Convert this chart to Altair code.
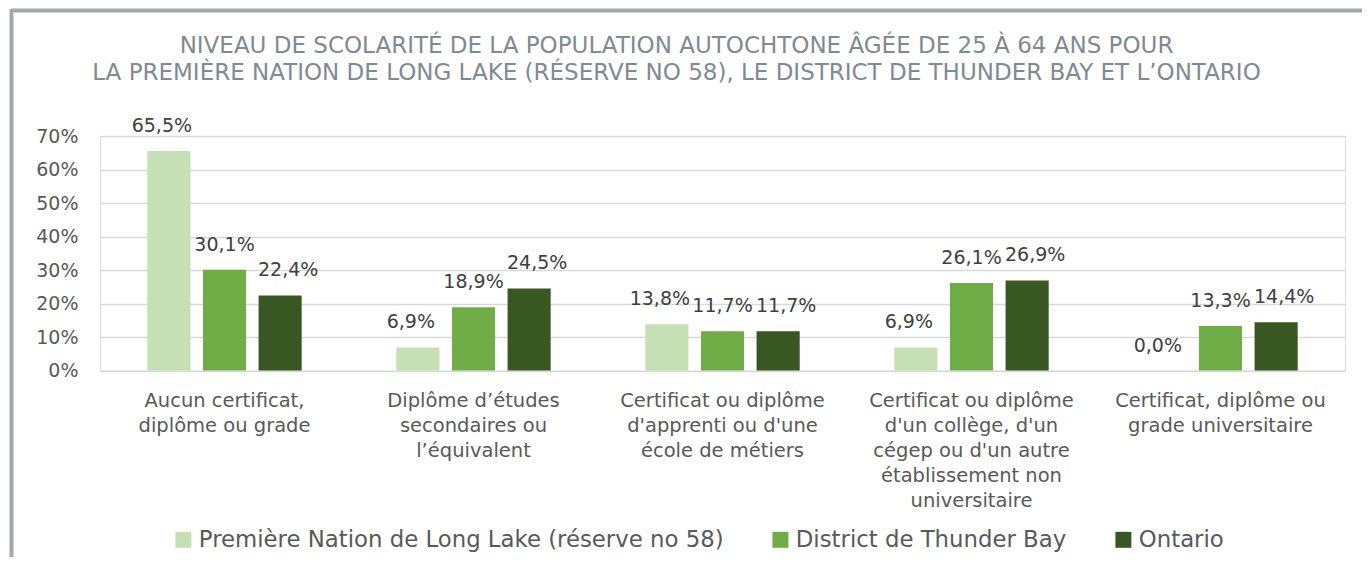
import altair as alt
import pandas as pd

# ---- data ----
categories = [
    "Aucun certificat,\ndiplôme ou grade",
    "Diplôme d’études\nsecondaires ou\nl’équivalent",
    "Certificat ou diplôme\nd'apprenti ou d'une\nécole de métiers",
    "Certificat ou diplôme\nd'un collège, d'un\ncégep ou d'un autre\nétablissement non\nuniversitaire",
    "Certificat, diplôme ou\ngrade universitaire",
]
series = [
    "Première Nation de Long Lake (réserve no 58)",
    "District de Thunder Bay",
    "Ontario",
]
long_lake = [65.5, 6.9, 13.8, 6.9, 0.0]
thunder_bay = [30.1, 18.9, 11.7, 26.1, 13.3]
ontario = [22.4, 24.5, 11.7, 26.9, 14.4]
y_ticks = [0, 10, 20, 30, 40, 50, 60, 70]
title_lines = [
    "NIVEAU DE SCOLARITÉ DE LA POPULATION AUTOCHTONE ÂGÉE DE 25 À 64 ANS POUR",
    "LA PREMIÈRE NATION DE LONG LAKE (RÉSERVE NO 58), LE DISTRICT DE THUNDER BAY ET L’ONTARIO",
]
colors = ["#c5e0b4", "#70ad47", "#385723"]

rows = []
for s, vals in zip(series, [long_lake, thunder_bay, ontario]):
    for c, v in zip(categories, vals):
        rows.append({"categorie": c, "serie": s, "valeur": v})
df = pd.DataFrame(rows)

FONT = "DejaVu Sans"

x_enc = alt.X(
    "categorie:N",
    sort=categories,
    scale=alt.Scale(paddingInner=0.38, paddingOuter=0.19),
    axis=alt.Axis(
        title=None,
        labelAngle=0,
        labelExpr="split(datum.label, '\\n')",
        labelFontSize=19.5,
        labelLineHeight=25,
        labelPadding=21,
        labelBaseline="top",
        labelColor="#595959",
        labelLimit=0,
        domain=False,
        ticks=False,
        grid=False,
    ),
)
xoff_enc = alt.XOffset(
    "serie:N", sort=series, scale=alt.Scale(paddingInner=0.225, paddingOuter=0)
)
y_enc = alt.Y(
    "valeur:Q",
    scale=alt.Scale(domain=[0, 70], nice=False),
    axis=alt.Axis(
        title=None,
        values=y_ticks,
        labelExpr="datum.value + '%'",
        labelFontSize=19,
        labelColor="#595959",
        labelPadding=22,
        gridColor="#d9d9d9",
        gridWidth=1.5,
        domain=False,
        ticks=False,
    ),
)
color_enc = alt.Color(
    "serie:N",
    sort=series,
    scale=alt.Scale(domain=series, range=colors),
    legend=alt.Legend(
        title=None,
        orient="none",
        direction="horizontal",
        legendX=72,
        legendY=392,
        symbolType="square",
        symbolSize=256,
        symbolStrokeWidth=0,
        symbolOpacity=1,
        labelFontSize=22.8,
        labelColor="#595959",
        labelOffset=4,
        columnPadding=45,
        labelLimit=0,
    ),
)

base = alt.Chart(df)
bars = base.mark_bar().encode(x=x_enc, xOffset=xoff_enc, y=y_enc, color=color_enc)

label_layers = []
for s, shift in zip(series, [-7, 0, 8]):
    label_layers.append(
        base.transform_filter(alt.datum.serie == s)
        .transform_calculate(
            lab="replace(format(datum.valeur, '.1f'), '.', ',') + '%'"
        )
        .mark_text(
            baseline="middle", dy=-25, dx=shift, fontSize=19, color="#404040", font=FONT
        )
        .encode(x=x_enc, xOffset=xoff_enc, y=y_enc, text="lab:N")
    )

frame_df = pd.DataFrame({"k": [0]})
frame_top = alt.Chart(frame_df).mark_rule(color="#a6a8a8", strokeWidth=4).encode(
    x=alt.value(-89), x2=alt.value(1270), y=alt.value(-125.5)
)
frame_left = alt.Chart(frame_df).mark_rule(color="#a6a8a8", strokeWidth=4).encode(
    x=alt.value(-88.5), y=alt.value(-127), y2=alt.value(440)
)

chart = (
    alt.layer(frame_top, frame_left, bars, *label_layers)
    .properties(
        width=1245,
        height=234.5,
        autosize=alt.AutoSizeParams(type="none"),
        padding={"left": 92, "top": 128, "right": 17, "bottom": 186},
        title=alt.TitleParams(
            text=title_lines,
            font=FONT,
            fontSize=23,
            fontWeight="normal",
            color="#808a93",
            anchor="middle",
            frame="group",
            dx=-46,
            lineHeight=27,
            offset=-78,
        ),
    )
    .configure_view(stroke=None)
    .configure(font=FONT)
)

chart.save("out.html", embed_options={"renderer": "svg", "actions": False})
